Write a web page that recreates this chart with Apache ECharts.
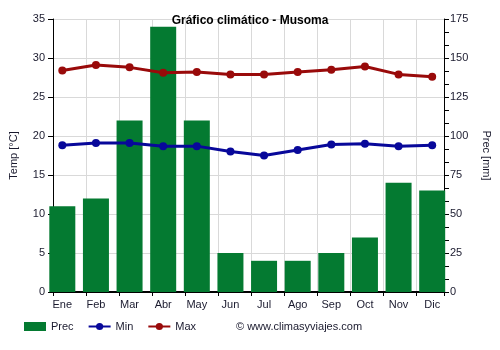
<!DOCTYPE html>
<html>
<head>
<meta charset="utf-8">
<script src="https://cdn.jsdelivr.net/npm/echarts@6/dist/echarts.min.js"></script>
<style>
  html, body { margin: 0; padding: 0; background: #fff; }
  #chart { width: 500px; height: 350px; }
</style>
</head>
<body>
<div id="chart"></div>
<script>
// Monthly climate data for Musoma
const months = ['Ene', 'Feb', 'Mar', 'Abr', 'May', 'Jun', 'Jul', 'Ago', 'Sep', 'Oct', 'Nov', 'Dic'];
const precMm = [55, 60, 110, 170, 110, 25, 20, 20, 25, 35, 70, 65];
const tempMin = [18.8, 19.1, 19.1, 18.7, 18.7, 18.0, 17.5, 18.2, 18.9, 19.0, 18.7, 18.8];
const tempMax = [28.4, 29.1, 28.8, 28.1, 28.2, 27.9, 27.9, 28.2, 28.5, 28.9, 27.9, 27.6];

const FONT = '"Liberation Sans", Arial, sans-serif';
const TEXT = '#1a1a2e';
const GREEN = '#047a31';
const RED = '#990a0a';
const BLUE = '#08089a';

// Frame: axes, ticks and grid lines (column lines every 33.5 px)
const FRAME = { left: 49, right: 54, top: 19, bottom: 58 };
const COL = 33.5;
const frameWidth = 500 - FRAME.left - FRAME.right;

const chart = echarts.init(document.getElementById('chart'), null, { renderer: 'canvas' });

chart.setOption({
  animation: false,
  backgroundColor: '#ffffff',
  textStyle: { fontFamily: FONT },
  title: {
    text: 'Gráfico climático - Musoma',
    left: 'center',
    top: 10,
    textStyle: { fontFamily: FONT, fontSize: 12, fontWeight: 'bold', color: '#000' }
  },
  grid: [
    { left: FRAME.left, right: FRAME.right, top: FRAME.top, bottom: FRAME.bottom },
    // data grid, months spaced a little wider than the frame columns
    { left: 45.5, right: 51, top: FRAME.top, bottom: FRAME.bottom }
  ],
  legend: {
    left: 24,
    top: 321,
    padding: 0,
    itemWidth: 22,
    itemHeight: 9,
    itemGap: 14,
    textStyle: { fontFamily: FONT, fontSize: 11, color: TEXT },
    data: [
      { name: 'Prec', icon: 'rect' },
      { name: 'Min' },
      { name: 'Max' }
    ]
  },
  graphic: [{
    type: 'text',
    left: 236,
    top: 321,
    style: {
      text: '© www.climasyviajes.com',
      font: '11px ' + FONT,
      fill: TEXT
    }
  }],
  xAxis: [
    {
      gridIndex: 0,
      type: 'value',
      min: 0,
      max: frameWidth / COL,
      interval: 1,
      axisLine: { show: true, lineStyle: { color: '#000', width: 2 } },
      axisTick: { show: true, length: 4, lineStyle: { color: '#000' } },
      axisLabel: { show: false },
      splitLine: { show: true, lineStyle: { color: '#d9d9d9' } }
    },
    {
      gridIndex: 1,
      type: 'category',
      data: months,
      boundaryGap: true,
      axisLine: { show: false },
      axisTick: { show: false },
      axisLabel: { fontSize: 11, color: TEXT, margin: 7 },
      splitLine: { show: false }
    }
  ],
  yAxis: [
    {
      gridIndex: 0,
      type: 'value',
      name: 'Temp [°C]',
      nameLocation: 'middle',
      nameGap: 34,
      nameTextStyle: { fontSize: 11, color: TEXT },
      min: 0, max: 35, interval: 5,
      axisLine: { show: true, lineStyle: { color: '#000' } },
      axisTick: { show: true, length: 5, lineStyle: { color: '#000' } },
      axisLabel: { fontSize: 11, color: TEXT, margin: 8 },
      splitLine: { show: true, lineStyle: { color: '#d9d9d9' } }
    },
    {
      gridIndex: 0,
      type: 'value',
      name: 'Prec [mm]',
      nameLocation: 'middle',
      nameGap: 37,
      nameRotate: -90,
      nameTextStyle: { fontSize: 11, color: TEXT },
      min: 0, max: 175, interval: 25,
      position: 'right',
      axisLine: { show: true, lineStyle: { color: '#000' } },
      axisTick: { show: true, length: 5, lineStyle: { color: '#000' } },
      minorTick: { show: true, splitNumber: 3, length: 5, lineStyle: { color: '#000' } },
      axisLabel: { fontSize: 11, color: TEXT, margin: 6 },
      splitLine: { show: false }
    },
    {
      gridIndex: 1,
      type: 'value',
      min: 0, max: 35,
      show: false
    },
    {
      gridIndex: 1,
      type: 'value',
      min: 0, max: 175,
      show: false
    }
  ],
  series: [
    {
      name: 'Prec',
      type: 'bar',
      xAxisIndex: 1,
      yAxisIndex: 3,
      data: precMm,
      barWidth: 26,
      itemStyle: { color: GREEN }
    },
    {
      name: 'Min',
      type: 'line',
      xAxisIndex: 1,
      yAxisIndex: 2,
      data: tempMin,
      symbol: 'circle',
      symbolSize: 8,
      lineStyle: { color: BLUE, width: 3 },
      itemStyle: { color: BLUE }
    },
    {
      name: 'Max',
      type: 'line',
      xAxisIndex: 1,
      yAxisIndex: 2,
      data: tempMax,
      symbol: 'circle',
      symbolSize: 8,
      lineStyle: { color: RED, width: 3 },
      itemStyle: { color: RED }
    }
  ]
});
</script>
</body>
</html>
